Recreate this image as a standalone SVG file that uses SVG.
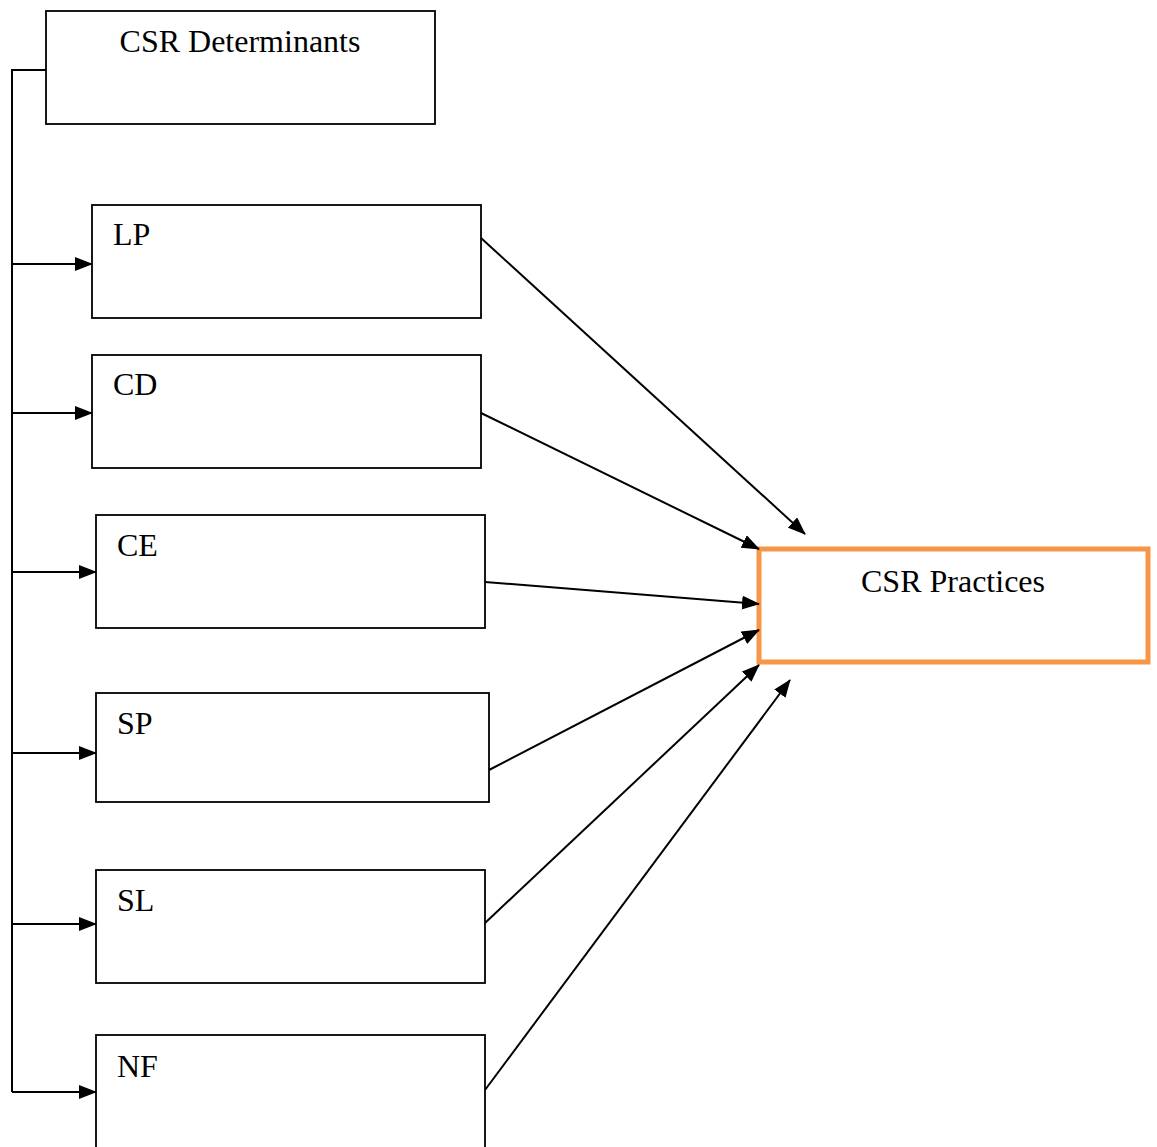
<svg xmlns="http://www.w3.org/2000/svg" width="1157" height="1147" viewBox="0 0 1157 1147">
<style>
.box{fill:#fff;stroke:#000;stroke-width:1.8}
.prac{fill:#fff;stroke:#F79646;stroke-width:5}
.lbl{font-family:"Liberation Serif","Times New Roman",serif;font-size:32px;fill:#000}
.c{fill:none;stroke:#000;stroke-width:2}
</style>
<defs>
<marker id="ah" viewBox="0 0 18 14" refX="17" refY="7" markerWidth="9" markerHeight="7" markerUnits="strokeWidth" orient="auto">
<path d="M0,0 L18,7 L0,14 Z" fill="#000"/>
</marker>
</defs>
<g id="det"><rect class="box" x="46" y="11" width="389" height="113"/><text class="lbl" x="240" y="52" text-anchor="middle">CSR Determinants</text></g>
<g id="lp"><rect class="box" x="92" y="205" width="389" height="113"/><text class="lbl" x="113" y="245">LP</text></g>
<g id="cd"><rect class="box" x="92" y="355" width="389" height="113"/><text class="lbl" x="113" y="395">CD</text></g>
<g id="ce"><rect class="box" x="96" y="515" width="389" height="113"/><text class="lbl" x="117" y="556">CE</text></g>
<g id="sp"><rect class="box" x="96" y="693" width="393" height="109"/><text class="lbl" x="117" y="734">SP</text></g>
<g id="sl"><rect class="box" x="96" y="870" width="389" height="113"/><text class="lbl" x="117" y="911">SL</text></g>
<g id="nf"><rect class="box" x="96" y="1035" width="389" height="130"/><text class="lbl" x="117" y="1077">NF</text></g>
<g id="prac"><rect class="prac" x="759" y="549" width="389" height="113"/><text class="lbl" x="953" y="592" text-anchor="middle">CSR Practices</text></g>
<g id="connectors">
<path class="c" d="M46,70 H12 V1092"/>
<line class="c" x1="12" y1="264" x2="92" y2="264" marker-end="url(#ah)"/>
<line class="c" x1="12" y1="413" x2="92" y2="413" marker-end="url(#ah)"/>
<line class="c" x1="12" y1="572" x2="96" y2="572" marker-end="url(#ah)"/>
<line class="c" x1="12" y1="753" x2="96" y2="753" marker-end="url(#ah)"/>
<line class="c" x1="12" y1="924" x2="96" y2="924" marker-end="url(#ah)"/>
<line class="c" x1="12" y1="1092" x2="96" y2="1092" marker-end="url(#ah)"/>
<line class="c" x1="481" y1="238" x2="805" y2="534" marker-end="url(#ah)"/>
<line class="c" x1="481" y1="413" x2="759" y2="549" marker-end="url(#ah)"/>
<line class="c" x1="485" y1="582" x2="759" y2="604" marker-end="url(#ah)"/>
<line class="c" x1="489" y1="770" x2="759" y2="630" marker-end="url(#ah)"/>
<line class="c" x1="485" y1="923" x2="759" y2="665" marker-end="url(#ah)"/>
<line class="c" x1="485" y1="1090" x2="790" y2="680" marker-end="url(#ah)"/>
</g>
</svg>
